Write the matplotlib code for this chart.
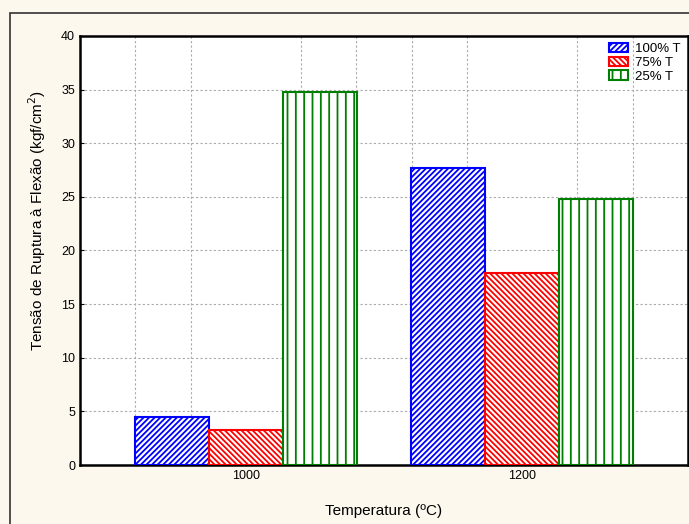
import matplotlib.pyplot as plt
import numpy as np
from matplotlib.patches import Rectangle

plt.rcParams['font.family'] = ['Liberation Sans', 'DejaVu Sans']
plt.rcParams['hatch.linewidth'] = 1.3

# Data
temperaturas = ['1000', '1200']
series = ['100% T', '75% T', '25% T']
t100 = [4.5, 27.7]
t75 = [3.3, 17.9]
t25 = [34.8, 24.8]

cores = ['blue', 'red', 'green']
hatches = ['//////', '\\\\\\\\\\\\', '||']

fig = plt.figure(figsize=(6.89, 5.24), dpi=100)
fig.patch.set_facecolor('#fdf8ee')
fig.patches.append(Rectangle((10/689, -0.1), 1.1, 1 - 13/524 + 0.1, transform=fig.transFigure,
                             fill=False, edgecolor='#333333', linewidth=1.2))

ax = fig.add_axes([80/689, 1 - 465/524, 608/689, 429/524])
ax.set_facecolor('white')

x = np.arange(len(temperaturas))
w = 0.268
for i, (vals, c, h, lab) in enumerate(zip([t100, t75, t25], cores, hatches, series)):
    ax.bar(x + (i - 1) * w, vals, w, facecolor='white', edgecolor=c, hatch=h,
           linewidth=1.5, label=lab, zorder=3)

ax.set_xlim(-0.6, 1.6)
ax.set_ylim(0, 40)
ax.set_yticks(np.arange(0, 41, 5))
ax.set_xticks(x)
ax.set_xticklabels(temperaturas)
ax.set_xticks(np.arange(-0.4, 1.41, 0.2), minor=True)
ax.tick_params(axis='both', which='both', direction='in', labelsize=9, length=3)
ax.grid(True, which='minor', axis='x', linestyle=(0, (2, 2)), color='#aaaaaa', linewidth=0.8, zorder=0)
ax.grid(True, which='major', axis='y', linestyle=(0, (2, 2)), color='#aaaaaa', linewidth=0.8, zorder=0)
for s in ax.spines.values():
    s.set_linewidth(1.8)

ax.set_xlabel('Temperatura (ºC)', fontsize=11, labelpad=16)
ax.set_ylabel('Tensão de Ruptura à Flexão (kgf/cm$^2$)', fontsize=11)
ax.yaxis.set_label_coords(-0.052, 0.571)

ax.legend(loc='upper right', frameon=False, fontsize=9.5, handlelength=1.45, handleheight=0.7,
          handletextpad=0.55, labelspacing=0.1, borderaxespad=0.25, borderpad=0.3)

fig.savefig('out.png', dpi=100, facecolor=fig.get_facecolor())
